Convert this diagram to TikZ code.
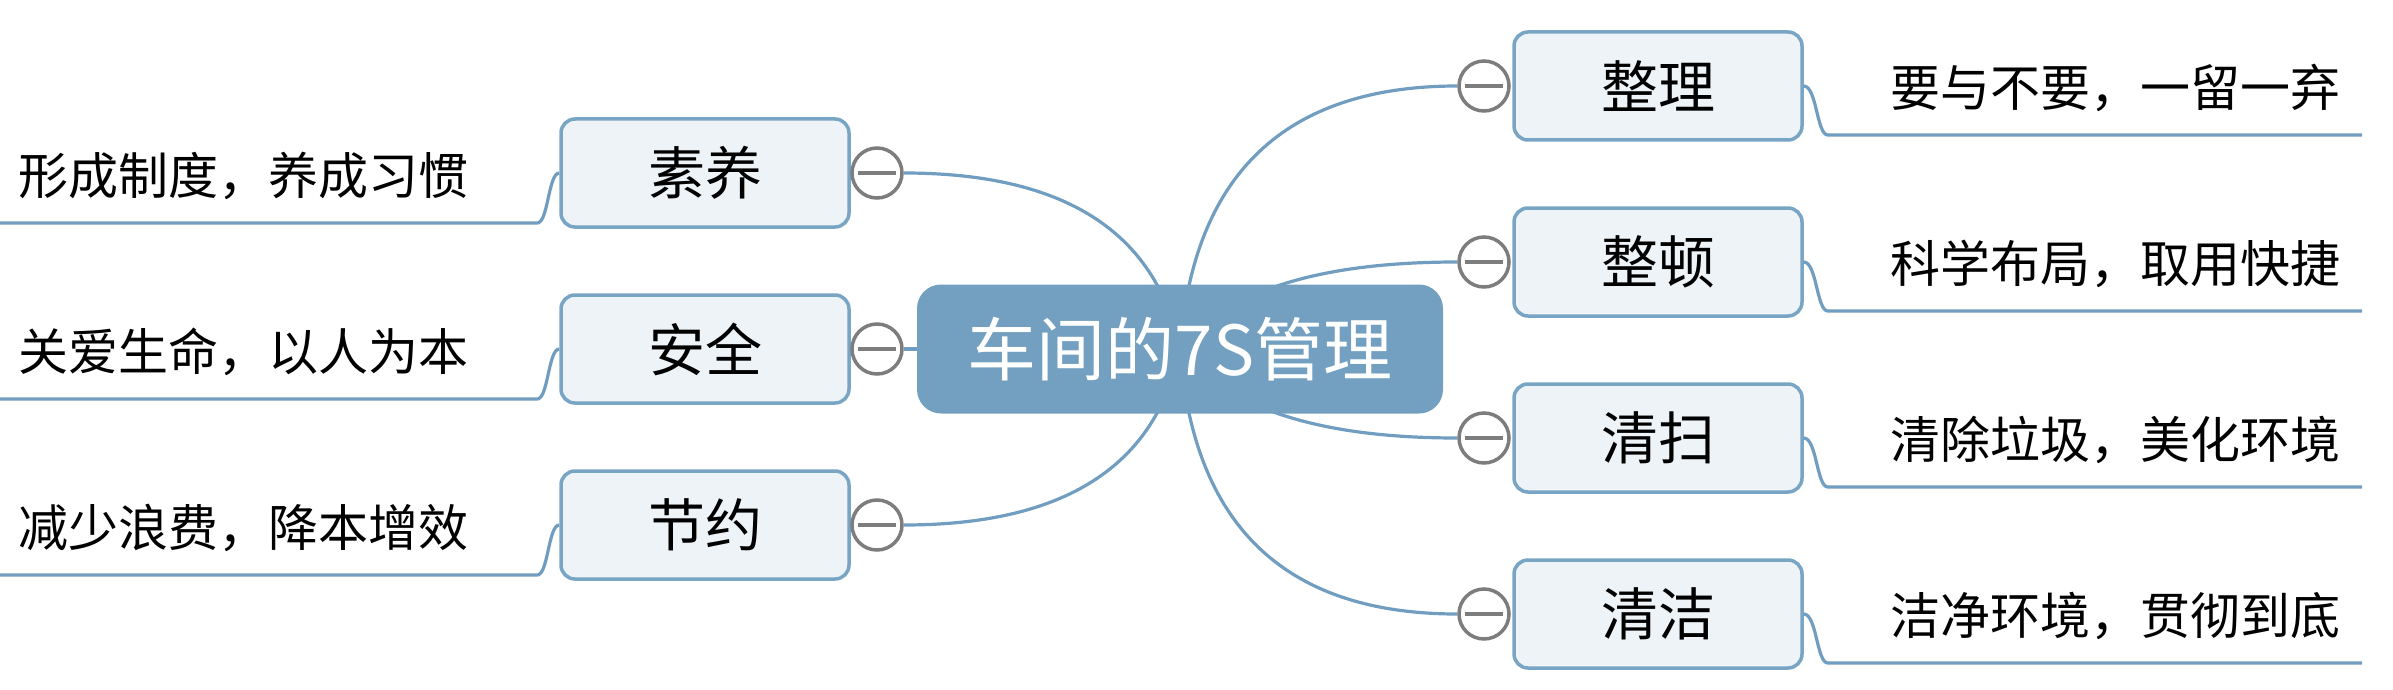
\documentclass[tikz,border=0pt]{standalone}
\usepackage{fontspec}
\setmainfont{Noto Sans CJK SC}
\usetikzlibrary{backgrounds}
\definecolor{rootc}{RGB}{115,160,192}
\definecolor{subfill}{RGB}{238,243,247}
\definecolor{bordc}{RGB}{121,165,197}
\definecolor{linec}{RGB}{112,157,192}
\definecolor{togc}{RGB}{125,125,125}
\begin{document}
\begin{tikzpicture}[x=1pt,y=-1pt,
  topic/.style={draw=bordc, line width=3.5pt, fill=subfill, rounded corners=14pt,
    minimum width=288pt, minimum height=108pt, inner sep=0pt,
    font=\fontsize{57}{60}\selectfont},
  root/.style={fill=rootc, rounded corners=24pt, minimum width=526pt,
    minimum height=129pt, inner sep=0pt, text=white,
    font=\fontsize{69}{72}\selectfont},
  toggle/.style={circle, draw=togc, line width=3.5pt, fill=white,
    minimum size=50pt, inner sep=0pt},
  minus/.style={draw=togc, line width=4pt},
  conn/.style={draw=linec, line width=3.2pt},
  note/.style={font=\fontsize{50}{54}\selectfont, inner sep=0pt, anchor=west}
]
\useasboundingbox (0,0) rectangle (2393,690);

% root
\node[root] (c) at (1180,349) {车间的7S管理};

% right topics
\node[topic] (t1) at (1658,86) {整理};
\node[topic] (t2) at (1658,262) {整顿};
\node[topic] (t3) at (1658,438) {清扫};
\node[topic] (t4) at (1658,614) {清洁};
% left topics
\node[topic] (t5) at (705,173) {素养};
\node[topic] (t6) at (705,349) {安全};
\node[topic] (t7) at (705,525) {节约};

% toggles
\foreach \i/\x/\y in {1/1484/86,2/1484/262,3/1484/438,4/1484/614,5/877/173,6/877/349,7/877/525}{
  \node[toggle] (g\i) at (\x,\y) {};
  \draw[minus] ([xshift=-19pt]g\i.center) -- ([xshift=19pt]g\i.center);
}

% notes
\node[note] (n1) at (1890,88) {要与不要，一留一弃};
\node[note] (n2) at (1890,264) {科学布局，取用快捷};
\node[note] (n3) at (1890,440) {清除垃圾，美化环境};
\node[note] (n4) at (1890,616) {洁净环境，贯彻到底};
\node[note] (n5) at (18,176) {形成制度，养成习惯};
\node[note] (n6) at (18,352) {关爱生命，以人为本};
\node[note] (n7) at (18,528) {减少浪费，降本增效};

% line ends
\coordinate (e1) at (2362,135);
\coordinate (e2) at (2362,311);
\coordinate (e3) at (2362,487);
\coordinate (e4) at (2362,663);
\coordinate (e5) at (0,223);
\coordinate (e6) at (0,399);
\coordinate (e7) at (0,575);

\begin{scope}[on background layer]
  \draw[conn] (c.center) .. controls +(13,-175) and +(-172,0) .. (g1.west);
  \draw[conn] (c.center) .. controls +(47,-58) and +(-139,0) .. (g2.west);
  \draw[conn] (c.center) .. controls +(47,59) and +(-139,0) .. (g3.west);
  \draw[conn] (c.center) .. controls +(13,177) and +(-172,0) .. (g4.west);
  \draw[conn] (c.center) .. controls +(-24,-117) and +(161,0) .. (g5.east);
  \draw[conn] (c.center) -- (g6.east);
  \draw[conn] (c.center) .. controls +(-24,117) and +(161,0) .. (g7.east);

  \foreach \i in {1,2,3,4}{
    \draw[conn] (t\i.east) .. controls +(13,0) and +(-11,0) .. ++(24,49) -- (e\i);
  }
  \foreach \i in {5,6,7}{
    \draw[conn] (t\i.west) .. controls +(-11,0) and +(11,0) .. ++(-22,50) -- (e\i);
  }
\end{scope}
\end{tikzpicture}
\end{document}
